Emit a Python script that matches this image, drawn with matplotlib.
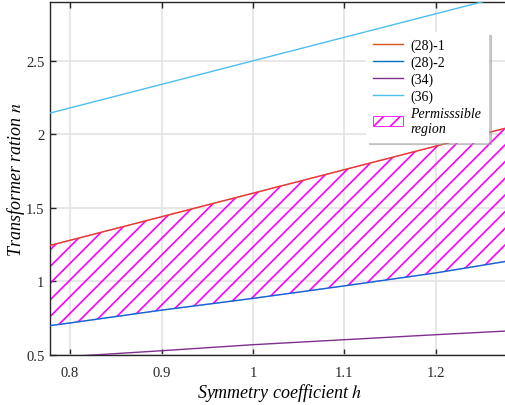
import numpy as np
import matplotlib
matplotlib.use("Agg")
import matplotlib.pyplot as plt
from matplotlib.patches import Patch

plt.rcParams['font.family'] = ['Liberation Serif', 'DejaVu Serif']
plt.rcParams['hatch.linewidth'] = 1.2
plt.rcParams['mathtext.fontset'] = 'stix'

# données
h = [0.778, 0.8, 0.9, 1.0, 1.1, 1.2, 1.28]
n_28_1 = [1.245, 1.28, 1.44, 1.60, 1.76, 1.92, 2.048]
n_28_2 = [0.700, 0.718, 0.805, 0.885, 0.970, 1.058, 1.140]
n_34 = [0.48, 0.49, 0.529, 0.570, 0.604, 0.638, 0.664]
n_36 = [2.145, 2.18, 2.34, 2.50, 2.66, 2.82, 2.948]

labels = ['(28)-1', '(28)-2', '(34)', '(36)']
colors = ['#D95319', '#0072BD', '#7E2F8E', '#4DBEEE']

fig = plt.figure(figsize=(5.06, 4.06), dpi=100)
ax = fig.add_axes([50/506, 50/406, 459/506, 353/406])

# zone admissible
ax.fill_between(h, n_28_2, n_28_1, facecolor='none', edgecolor='#FF00FF',
                hatch='//', linewidth=0, zorder=2)

handles = []
for y, lab, c in zip([n_28_1, n_28_2, n_34, n_36], labels, colors):
    ln, = ax.plot(h, y, color=c, lw=1.0, label=lab, zorder=3)
    handles.append(ln)

# bords roses par-dessus (mélange visible sur l'image)
ax.plot(h, n_28_1, color='#FF1060', lw=1.0, alpha=0.45, zorder=4)
ax.plot(h, n_28_2, color='#5040FF', lw=1.0, alpha=0.35, zorder=4)

ax.set_xlim(0.778, 1.28)
ax.set_ylim(0.5, 2.9)
ax.set_xticks([0.8, 0.9, 1.0, 1.1, 1.2])
ax.set_xticklabels(['0.8', '0.9', '1', '1.1', '1.2'])
ax.set_yticks([0.5, 1.0, 1.5, 2.0, 2.5])
ax.set_yticklabels(['0.5', '1', '1.5', '2', '2.5'])
ax.tick_params(direction='in', top=True, right=False, labelsize=10.5,
               length=4, width=1.0, colors='#262626')
ax.tick_params(axis='x', pad=8)
ax.tick_params(axis='y', pad=4)
ax.grid(True, color='#e3e3e3', lw=1.2)
ax.set_axisbelow(True)
for s in ['left', 'bottom', 'top']:
    ax.spines[s].set_color('#262626')
    ax.spines[s].set_linewidth(1.0)
ax.spines['right'].set_visible(False)

ax.set_xlabel('Symmetry coefficient $h$', fontsize=13, style='italic')
ax.set_ylabel('Transformer ration $n$', fontsize=13, style='italic')
ax.xaxis.set_label_coords(0.5, -0.075)
ax.yaxis.set_label_coords(-0.051, 0.5)

zone_h = Patch(facecolor='white', edgecolor='#FF00FF', hatch='//', lw=0.6)
leg = fig.legend(handles + [zone_h], labels + ['Permisssible\nregion'],
                 loc='upper right', bbox_to_anchor=(488/506, 1 - 33/406),
                 bbox_transform=fig.transFigure, fontsize=10,
                 frameon=True, fancybox=False, shadow={'color': '#9a9a9a'},
                 handlelength=2.2, handletextpad=0.5, labelspacing=0.25,
                 borderpad=0.5, borderaxespad=0)
leg.get_frame().set_edgecolor('#ffffff')
leg.get_frame().set_linewidth(0.8)
leg.get_texts()[-1].set_style('italic')

fig.savefig('out.png', dpi=100)
